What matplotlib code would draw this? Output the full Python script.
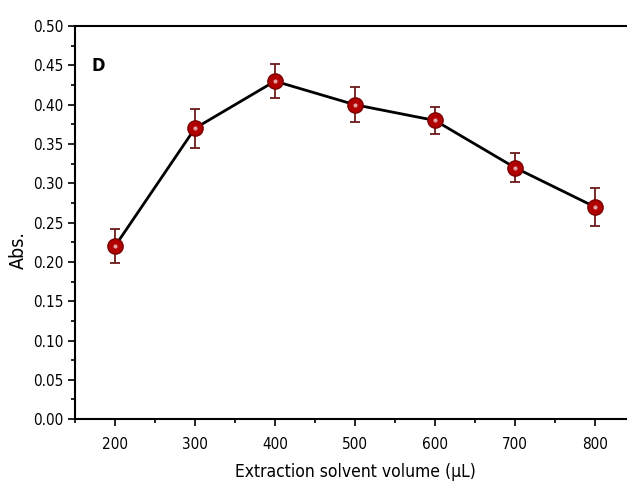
import matplotlib.pyplot as plt
from matplotlib.ticker import MultipleLocator

plt.rcParams['font.family'] = ['DejaVu Sans']
plt.rcParams['font.stretch'] = 'condensed'

# extraction solvent volume vs absorbance
volume = [200, 300, 400, 500, 600, 700, 800]
absorb = [0.22, 0.37, 0.43, 0.40, 0.38, 0.32, 0.27]
err = [0.022, 0.025, 0.022, 0.022, 0.017, 0.018, 0.024]

fig = plt.figure(figsize=(6.27, 4.96), dpi=100)
ax = fig.add_axes([0.1196, 0.155, 0.893, 0.7923])

ax.plot(volume, absorb, color="black", lw=2, zorder=2)
ax.errorbar(volume, absorb, yerr=err, fmt="none", ecolor="#6b1a1a",
            elinewidth=1.3, capsize=3.5, capthick=1.3, zorder=3)
ax.plot(volume, absorb, "o", ms=11, mfc="#b00000", mec="#7a0000", mew=1, zorder=4)
ax.plot(volume, absorb, "o", ms=3, mfc="#f0c8c8", mec="none", zorder=5, alpha=0.8)

ax.set_xlim(150, 850)
ax.set_ylim(0, 0.5)
ax.xaxis.set_major_locator(MultipleLocator(100))
ax.xaxis.set_minor_locator(MultipleLocator(50))
ax.yaxis.set_major_locator(MultipleLocator(0.05))
ax.yaxis.set_minor_locator(MultipleLocator(0.025))
ax.yaxis.set_major_formatter(plt.FormatStrFormatter("%.2f"))
ax.tick_params(which="both", direction="out", labelsize=11, width=1.2)
ax.tick_params(which="major", length=5)
ax.tick_params(which="minor", length=3)
ax.tick_params(axis="x", pad=8)
for s in ax.spines.values():
    s.set_linewidth(1.5)

ax.text(0.03, 0.885, "D", transform=ax.transAxes, fontsize=13, fontweight="bold")
ax.set_xlabel("Extraction solvent volume (\u03bcL)", fontsize=12.5, labelpad=8)
ax.set_ylabel("Abs.", fontsize=14, labelpad=1)
ax.yaxis.set_label_coords(-0.085, 0.43)

plt.savefig("out.png")
